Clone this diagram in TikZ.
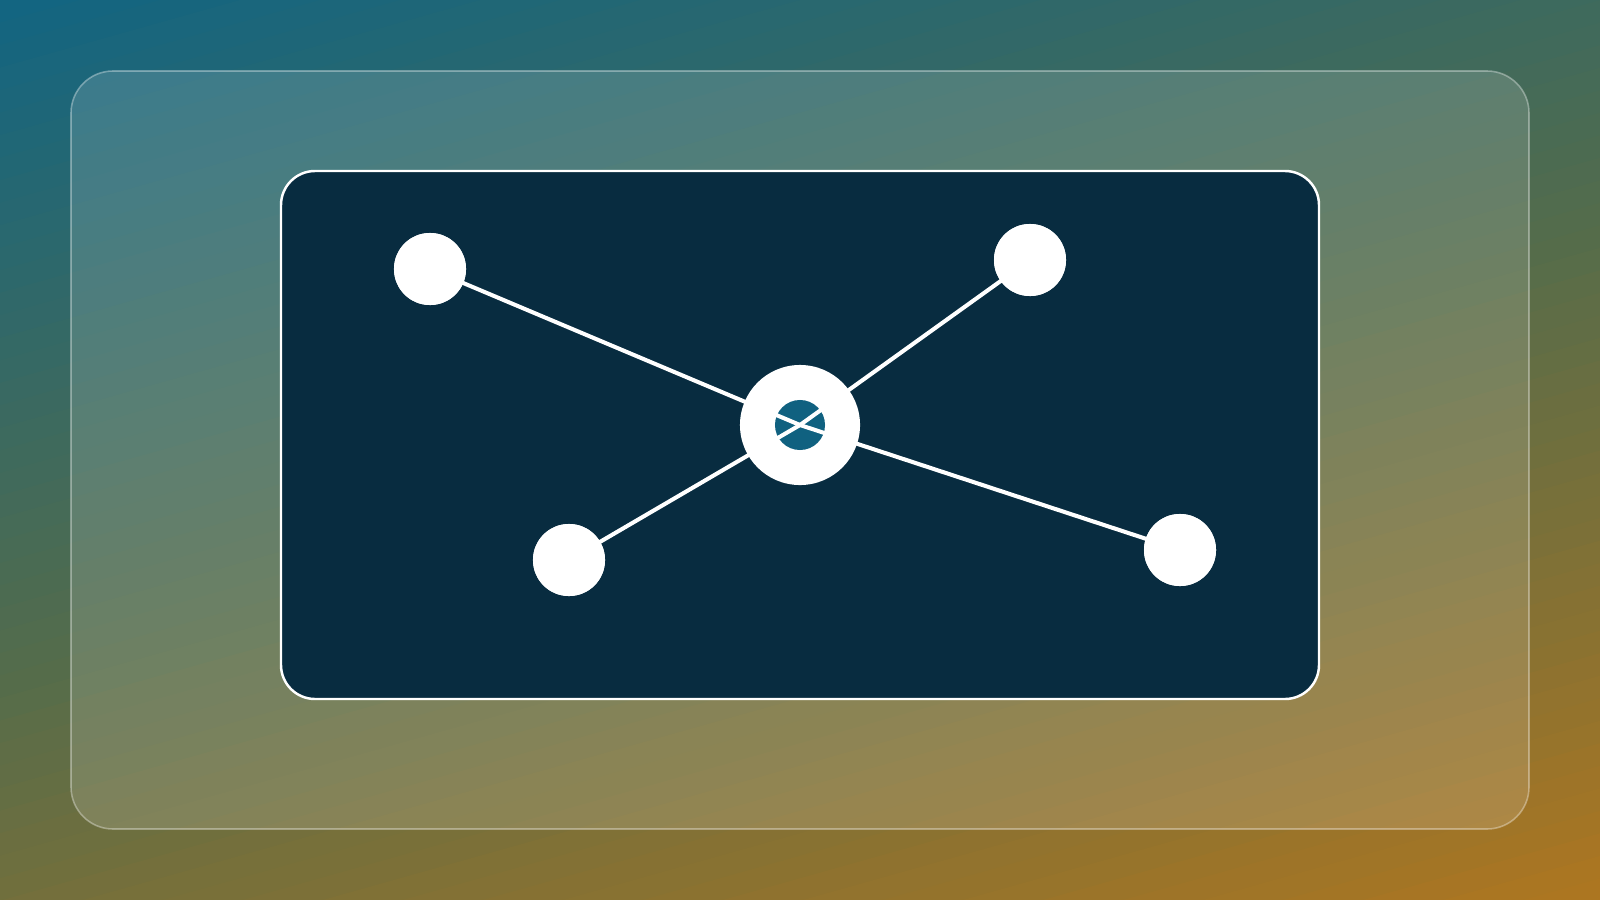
\documentclass[tikz,border=0pt]{standalone}
\usepackage{tikz}

\definecolor{gtop}{RGB}{18,101,130}
\definecolor{gmid}{RGB}{84,108,75}
\definecolor{gbot}{RGB}{174,118,32}
\definecolor{panel}{RGB}{8,44,64}
\definecolor{coreblue}{RGB}{16,97,128}

\begin{document}
\begin{tikzpicture}[x=0.01cm, y=-0.01cm]
		\tikzset{vertex/.style={shape = circle, fill = white, inner sep = 0pt, minimum size = 0.72cm}}
		\tikzset{hub/.style={shape = circle, fill = white, inner sep = 0pt, minimum size = 1.2cm}}
		\tikzset{core/.style={shape = circle, fill = coreblue, inner sep = 0pt, minimum size = 0.5cm}}
		\tikzset{link/.style={draw = white, line width = 1.15pt}}
		\useasboundingbox (0,0) rectangle (1600,900);
		%background
		\begin{scope}
			\clip (0,0) rectangle (1600,900);
			\foreach \i [evaluate=\i as \ta using \i*21.67, evaluate=\i as \p using (\i+0.5)*100/30] in {0,...,29}
				\fill[gmid!\p!gtop] ({\ta*0.271+2000*0.963},{\ta*0.963-2000*0.271}) -- ({\ta*0.271-2000*0.963},{\ta*0.963+2000*0.271})
					-- ({(\ta+23)*0.271-2000*0.963},{(\ta+23)*0.963+2000*0.271}) -- ({(\ta+23)*0.271+2000*0.963},{(\ta+23)*0.963-2000*0.271}) -- cycle;
			\foreach \i [evaluate=\i as \ta using 650+\i*21.67, evaluate=\i as \p using (\i+0.5)*100/30] in {0,...,29}
				\fill[gbot!\p!gmid] ({\ta*0.271+2000*0.963},{\ta*0.963-2000*0.271}) -- ({\ta*0.271-2000*0.963},{\ta*0.963+2000*0.271})
					-- ({(\ta+23)*0.271-2000*0.963},{(\ta+23)*0.963+2000*0.271}) -- ({(\ta+23)*0.271+2000*0.963},{(\ta+23)*0.963-2000*0.271}) -- cycle;
		\end{scope}
		%panels
		\draw[rounded corners = 0.42cm, fill = white, fill opacity = 0.14, draw opacity = 0.35, draw = white, line width = 0.45pt]
			(71,71) rectangle (1529,829);
		\draw[rounded corners = 0.34cm, fill = panel, draw = white, line width = 0.7pt]
			(281,171) rectangle (1319,699);
		%vertices
		\node[hub] (hub) at (800,425) {};
		\node[core] (core) at (800,425) {};
		\node[vertex] (a) at (430,269) {};
		\node[vertex] (b) at (1030,260) {};
		\node[vertex] (c) at (569,560) {};
		\node[vertex] (d) at (1180,550) {};
		%edges
		\draw[link] (a.center) -- (core.center);
		\draw[link] (b.center) -- (core.center);
		\draw[link] (c.center) -- (core.center);
		\draw[link] (d.center) -- (core.center);
		%vertices on top
		\node[vertex] at (a) {};
		\node[vertex] at (b) {};
		\node[vertex] at (c) {};
		\node[vertex] at (d) {};
		\end{tikzpicture}
\end{document}
